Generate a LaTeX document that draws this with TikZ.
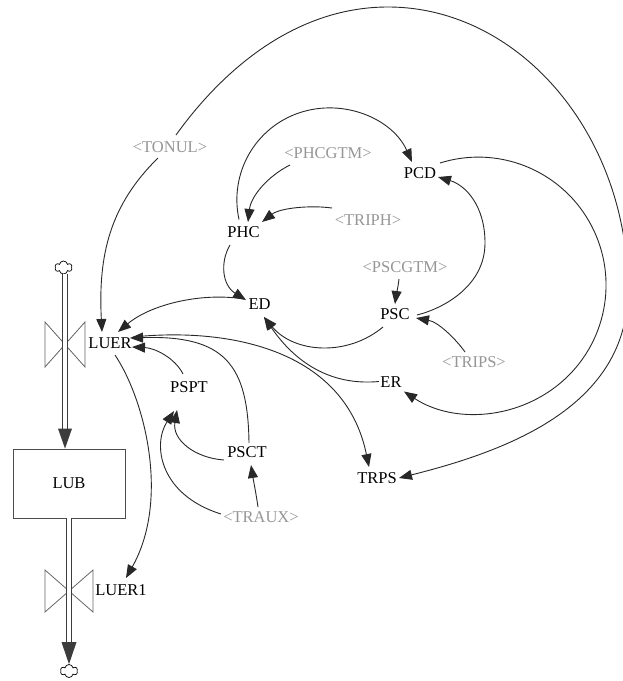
\documentclass[tikz,border=0pt]{standalone}
\usepackage{fontspec}
\setmainfont{Liberation Serif}
\usetikzlibrary{arrows.meta,shapes.symbols}
\definecolor{linkc}{RGB}{40,40,40}
\definecolor{shadowc}{RGB}{150,150,150}
\definecolor{pipec}{RGB}{60,60,60}

\begin{document}
\begin{tikzpicture}[x=1pt,y=1pt,
  every node/.style={font=\fontsize{16.5}{19}\selectfont, inner sep=1pt},
  var/.style={text=black},
  shadowvar/.style={text=shadowc},
  stock/.style={draw=black!70, line width=0.8pt, minimum width=112pt, minimum height=69pt},
  link/.style={draw=linkc, line width=0.9pt, -{Triangle[length=13pt,width=10pt]}},
  pipe/.style={draw=pipec, line width=1.1pt, double=white, double distance=4pt},
  valve/.style={draw=black!60, line width=0.8pt},
  sink/.style={cloud, cloud puffs=6, cloud puff arc=160, draw=black, line width=0.7pt,
    minimum width=17pt, minimum height=13pt, inner sep=0pt}
]
\useasboundingbox (0,0) rectangle (623,-681);

% stock, flows and their valves
\node[stock] (lub) at (69,-483.5) {LUB};
\node[sink] (src) at (63.5,-267.5) {};
\node[sink] (snk) at (69,-671) {};
\coordinate (v1) at (65,-344.5);
\coordinate (v2) at (69,-591);

\draw[valve] (v1) -- ++(-20,22.5) -- ++(0,-45) -- cycle;
\draw[valve] (v1) -- ++(20,22.5) -- ++(0,-45) -- cycle;
\draw[valve] (v2) -- ++(-24,21) -- ++(0,-42) -- cycle;
\draw[valve] (v2) -- ++(24,21) -- ++(0,-42) -- cycle;

\draw[pipe, shorten >=19pt] (src.south -| v1) -- (v1 |- lub.north);
\fill[pipec] (v1 |- lub.north) -- ++(-7,20) -- ++(14,0) -- cycle;
\draw[pipe, shorten >=20pt] (v2 |- lub.south) -- (v2 |- snk.north);
\fill[pipec] (v2 |- snk.north) -- ++(-7.5,22) -- ++(15,0) -- cycle;

% variables
\node[var] (luer) at (110,-343) {LUER};
\node[var] (luer1) at (121,-590) {LUER1};
\node[shadowvar] (tonul) at (170,-147) {<TONUL>};
\node[shadowvar] (phcgtm) at (328,-153) {<PHCGTM>};
\node[var] (pcd) at (420,-173) {PCD};
\node[shadowvar] (triph) at (368,-220) {<TRIPH>};
\node[var] (phc) at (243.5,-232.5) {PHC};
\node[shadowvar] (pscgtm) at (405,-267.5) {<PSCGTM>};
\node[var] (ed) at (259.5,-304) {ED};
\node[var] (psc) at (395,-314) {PSC};
\node[shadowvar] (trips) at (474,-362.5) {<TRIPS>};
\node[var] (er) at (391,-382.5) {ER};
\node[var] (pspt) at (189,-387.5) {PSPT};
\node[var] (psct) at (247,-452.5) {PSCT};
\node[var] (trps) at (377,-478) {TRPS};
\node[shadowvar] (traux) at (261,-517.5) {<TRAUX>};

% causal links
\draw[link] ([shift={(-12,-11)}]tonul.center) .. controls (110,-205) and (98,-255) .. ([shift={(-8,11)}]luer.center);
\draw[link] ([shift={(6,12)}]tonul.center) .. controls (227,-64) and (300,-7) .. (388,-7)
  .. controls (519,-7) and (628,-134) .. (628,-290)
  .. controls (628,-405) and (511,-450) .. ([shift={(22,0)}]trps.center);
\draw[link] ([shift={(-4.5,13)}]phc.center) .. controls (229,-173.6) and (255,-127.5) .. (299.6,-112.7)
  .. controls (344.2,-97.9) and (392.7,-119.1) .. ([shift={(-8,11)}]pcd.center);
\draw[link] ([shift={(-38,-12)}]phcgtm.center) .. controls (268,-176) and (251,-196) .. ([shift={(4.5,10.5)}]phc.center);
\draw[link] ([shift={(-36,12)}]triph.center) .. controls (310,-205) and (280,-208) .. ([shift={(18.5,10.5)}]phc.center);
\draw[link] ([shift={(-13.5,-12.5)}]phc.center) .. controls (220,-262) and (222,-285) .. ([shift={(-13.5,4)}]ed.center);
\draw[link] ([shift={(-15.5,5)}]ed.center) .. controls (200,-292) and (150,-305) .. ([shift={(8,11)}]luer.center);
\draw[link] ([shift={(-6,-11.5)}]pscgtm.center) .. controls (398,-288) and (396,-296) .. ([shift={(0,10)}]psc.center);
\draw[link] ([shift={(22,-1)}]psc.center) .. controls (445,-308) and (485,-285) .. (485,-243)
  .. controls (485,-205) and (465,-185) .. ([shift={(18,-4)}]pcd.center);
\draw[link] ([shift={(-9,10.5)}]trips.center) .. controls (455,-338) and (438,-322) .. ([shift={(21,-4)}]psc.center);
\draw[link] ([shift={(-12,-13)}]psc.center) .. controls (347,-357) and (294,-353) .. ([shift={(4.5,-13)}]ed.center);
\draw[link] ([shift={(-12,1)}]er.center) .. controls (330,-386) and (295,-362) .. ([shift={(4.5,-13)}]ed.center);
\draw[link] ([shift={(20,10)}]pcd.center) .. controls (497.2,-145) and (559.1,-169.2) .. (589,-221.2)
  .. controls (618.9,-273.2) and (608.7,-338.9) .. (564.5,-379.4)
  .. controls (520.3,-419.9) and (454,-424.3) .. ([shift={(13,-9)}]er.center);
\draw[link] ([shift={(23,6)}]luer.center) .. controls (230,-327) and (345,-350) .. ([shift={(-8,11)}]trps.center);
\draw[link] ([shift={(2,9.5)}]psct.center) .. controls (248,-365) and (225,-335) .. ([shift={(20,5)}]luer.center);
\draw[link] ([shift={(-6,13.5)}]pspt.center) .. controls (175,-358) and (155,-348) .. ([shift={(22,-4)}]luer.center);
\draw[link] ([shift={(-23,-7.5)}]psct.center) .. controls (195,-458) and (172,-440) .. ([shift={(-12,-22.5)}]pspt.center);
\draw[link] ([shift={(-40,3.5)}]traux.center) .. controls (160,-495) and (152,-445) .. ([shift={(-15,-23.5)}]pspt.center);
\draw[link] ([shift={(-3,10.5)}]traux.center) .. controls (256,-493) and (253,-478) .. ([shift={(4,-12.5)}]psct.center);
\draw[link] ([shift={(5,-12)}]luer.center) .. controls (145,-400) and (170,-500) .. ([shift={(5,12)}]luer1.center);
\end{tikzpicture}
\end{document}
